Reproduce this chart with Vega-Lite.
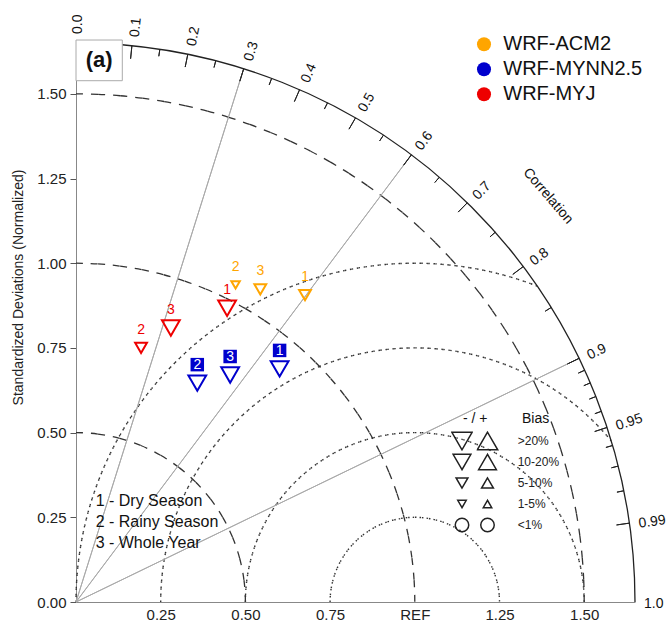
{
  "$schema": "https://vega.github.io/schema/vega-lite/v6.json",
  "width": 559,
  "height": 559,
  "autosize": {"type": "none"},
  "padding": {"left": 76, "top": 43, "right": 32, "bottom": 21},
  "background": "white",
  "config": {"view": {"stroke": null}, "font": "Liberation Sans"},
  "datasets": {
    "points": [
      {"model": "WRF-ACM2", "season": "1", "x": 0.676, "y": 0.906, "bias": "neg 5-10%"},
      {"model": "WRF-ACM2", "season": "2", "x": 0.471, "y": 0.936, "bias": "neg 1-5%"},
      {"model": "WRF-ACM2", "season": "3", "x": 0.544, "y": 0.923, "bias": "neg 5-10%"},
      {"model": "WRF-MYNN2.5", "season": "1", "x": 0.601, "y": 0.688, "bias": "neg 10-20%"},
      {"model": "WRF-MYNN2.5", "season": "2", "x": 0.358, "y": 0.646, "bias": "neg 10-20%"},
      {"model": "WRF-MYNN2.5", "season": "3", "x": 0.455, "y": 0.670, "bias": "neg 10-20%"},
      {"model": "WRF-MYJ", "season": "1", "x": 0.446, "y": 0.867, "bias": "neg 10-20%"},
      {"model": "WRF-MYJ", "season": "2", "x": 0.192, "y": 0.750, "bias": "neg 5-10%"},
      {"model": "WRF-MYJ", "season": "3", "x": 0.280, "y": 0.809, "bias": "neg 10-20%"}
    ],
    "sdarcs": [{"sd": 0.5}, {"sd": 1.0}, {"sd": 1.5}],
    "rmsA": [{"rms": 0.25}, {"rms": 0.5}],
    "radial": [{"corr": 0.3, "a": 17.458}, {"corr": 0.6, "a": 36.87}, {"corr": 0.9, "a": 64.158}],
    "major": [
      {"corr": 0.1, "a": 5.739}, {"corr": 0.2, "a": 11.537}, {"corr": 0.3, "a": 17.458},
      {"corr": 0.4, "a": 23.578}, {"corr": 0.5, "a": 30}, {"corr": 0.6, "a": 36.87},
      {"corr": 0.7, "a": 44.427}, {"corr": 0.8, "a": 53.13}, {"corr": 0.9, "a": 64.158},
      {"corr": 0.95, "a": 71.805}, {"corr": 0.99, "a": 81.89}
    ],
    "minor": [
      {"corr": 0.05, "a": 2.866}, {"corr": 0.15, "a": 8.627}, {"corr": 0.25, "a": 14.478},
      {"corr": 0.35, "a": 20.487}, {"corr": 0.45, "a": 26.744}, {"corr": 0.55, "a": 33.367},
      {"corr": 0.65, "a": 40.542}, {"corr": 0.75, "a": 48.59}, {"corr": 0.85, "a": 58.212},
      {"corr": 0.91, "a": 65.505}, {"corr": 0.92, "a": 66.926}, {"corr": 0.93, "a": 68.434},
      {"corr": 0.94, "a": 70.052}, {"corr": 0.96, "a": 73.74}, {"corr": 0.97, "a": 75.93},
      {"corr": 0.98, "a": 78.522}
    ],
    "corrlab": [
      {"label": "0.0", "a": 0}, {"label": "0.1", "a": 5.739}, {"label": "0.2", "a": 11.537},
      {"label": "0.3", "a": 17.458}, {"label": "0.4", "a": 23.578}, {"label": "0.5", "a": 30},
      {"label": "0.6", "a": 36.87}, {"label": "0.7", "a": 44.427}, {"label": "0.8", "a": 53.13},
      {"label": "0.9", "a": 64.158}, {"label": "0.95", "a": 71.805}, {"label": "0.99", "a": 81.89},
      {"label": "1.0", "a": 90}
    ],
    "posbias": [{"pbias": ">20%"}, {"pbias": "10-20%"}, {"pbias": "5-10%"}, {"pbias": "1-5%"}, {"pbias": "<1%"}]
  },
  "resolve": {"scale": {"shape": "independent", "size": "independent"}},
  "layer": [
    {
      "data": {"name": "sdarcs"},
      "mark": {"type": "arc", "filled": false, "stroke": "#333", "strokeWidth": 1.3, "strokeDash": [7, 15.1737]},
      "encoding": {
        "x": {"datum": 0, "type": "quantitative", "stack": null, "scale": {"domain": [0, 1.65], "nice": false, "zero": false}},
        "y": {"datum": 0, "type": "quantitative", "stack": null, "scale": {"domain": [0, 1.65], "nice": false, "zero": false}},
        "theta": {"datum": 0, "type": "quantitative", "scale": {"domain": [0, 360], "range": [0, 6.283185307179586]}},
        "theta2": {"datum": 90},
        "radius": {"field": "sd", "type": "quantitative", "scale": {"type": "linear", "domain": [0, 1.65], "range": [0, 559], "nice": false}},
        "radius2": {"field": "sd"}
      }
    },
    {
      "data": {"name": "rmsA"},
      "mark": {"type": "arc", "filled": false, "stroke": "#333", "strokeWidth": 1.4, "strokeDash": [1.5, 5.5022]},
      "encoding": {
        "x": {"datum": 1, "type": "quantitative", "stack": null, "scale": {"domain": [0, 1.65], "nice": false, "zero": false}},
        "y": {"datum": 0, "type": "quantitative", "stack": null, "scale": {"domain": [0, 1.65], "nice": false, "zero": false}},
        "theta": {"datum": -90, "type": "quantitative", "scale": {"domain": [0, 360], "range": [0, 6.283185307179586]}},
        "theta2": {"datum": 90},
        "radius": {"field": "rms", "type": "quantitative", "scale": {"type": "linear", "domain": [0, 1.65], "range": [0, 559], "nice": false}},
        "radius2": {"field": "rms"}
      }
    },
    {
      "data": {"values": [{"rms": 0.75}]},
      "mark": {"type": "arc", "filled": false, "stroke": "#333", "strokeWidth": 1.4, "strokeDash": [1.5, 5.508534]},
      "encoding": {
        "x": {"datum": 1, "type": "quantitative", "stack": null, "scale": {"domain": [0, 1.65], "nice": false, "zero": false}},
        "y": {"datum": 0, "type": "quantitative", "stack": null, "scale": {"domain": [0, 1.65], "nice": false, "zero": false}},
        "theta": {"datum": -90, "type": "quantitative", "scale": {"domain": [0, 360], "range": [0, 6.283185307179586]}},
        "theta2": {"datum": 50.6542},
        "radius": {"field": "rms", "type": "quantitative", "scale": {"type": "linear", "domain": [0, 1.65], "range": [0, 559], "nice": false}},
        "radius2": {"field": "rms"}
      }
    },
    {
      "data": {"values": [{"rms": 1.0}]},
      "mark": {"type": "arc", "filled": false, "stroke": "#333", "strokeWidth": 1.4, "strokeDash": [1.5, 5.49345]},
      "encoding": {
        "x": {"datum": 1, "type": "quantitative", "stack": null, "scale": {"domain": [0, 1.65], "nice": false, "zero": false}},
        "y": {"datum": 0, "type": "quantitative", "stack": null, "scale": {"domain": [0, 1.65], "nice": false, "zero": false}},
        "theta": {"datum": -90, "type": "quantitative", "scale": {"domain": [0, 360], "range": [0, 6.283185307179586]}},
        "theta2": {"datum": 21.1769},
        "radius": {"field": "rms", "type": "quantitative", "scale": {"type": "linear", "domain": [0, 1.65], "range": [0, 559], "nice": false}},
        "radius2": {"field": "rms"}
      }
    },
    {
      "data": {"name": "radial"},
      "mark": {"type": "arc", "filled": false, "stroke": "#aaaaaa", "strokeWidth": 1},
      "encoding": {
        "x": {"datum": 0, "type": "quantitative", "stack": null, "scale": {"domain": [0, 1.65], "nice": false, "zero": false}},
        "y": {"datum": 0, "type": "quantitative", "stack": null, "scale": {"domain": [0, 1.65], "nice": false, "zero": false}},
        "theta": {"field": "a", "type": "quantitative", "scale": {"domain": [0, 360], "range": [0, 6.283185307179586]}},
        "theta2": {"field": "a"},
        "radius": {"datum": 1.65, "type": "quantitative", "scale": {"type": "linear", "domain": [0, 1.65], "range": [0, 559], "nice": false}},
        "radius2": {"datum": 0}
      }
    },
    {
      "data": {"values": [{"r": 1.65}]},
      "mark": {"type": "arc", "filled": false, "stroke": "#222", "strokeWidth": 1.3},
      "encoding": {
        "x": {"datum": 0, "type": "quantitative", "stack": null, "scale": {"domain": [0, 1.65], "nice": false, "zero": false}},
        "y": {"datum": 0, "type": "quantitative", "stack": null, "scale": {"domain": [0, 1.65], "nice": false, "zero": false}},
        "theta": {"datum": 0, "type": "quantitative", "scale": {"domain": [0, 360], "range": [0, 6.283185307179586]}},
        "theta2": {"datum": 90},
        "radius": {"field": "r", "type": "quantitative", "scale": {"type": "linear", "domain": [0, 1.65], "range": [0, 559], "nice": false}},
        "radius2": {"field": "r"}
      }
    },
    {
      "data": {"name": "major"},
      "mark": {"type": "arc", "filled": false, "stroke": "#222", "strokeWidth": 1},
      "encoding": {
        "x": {"datum": 0, "type": "quantitative", "stack": null, "scale": {"domain": [0, 1.65], "nice": false, "zero": false}},
        "y": {"datum": 0, "type": "quantitative", "stack": null, "scale": {"domain": [0, 1.65], "nice": false, "zero": false}},
        "theta": {"field": "a", "type": "quantitative", "scale": {"domain": [0, 360], "range": [0, 6.283185307179586]}},
        "theta2": {"field": "a"},
        "radius": {"datum": 1.65, "type": "quantitative", "scale": {"type": "linear", "domain": [0, 1.65], "range": [0, 559], "nice": false}},
        "radius2": {"datum": 1.6116}
      }
    },
    {
      "data": {"name": "minor"},
      "mark": {"type": "arc", "filled": false, "stroke": "#222", "strokeWidth": 1},
      "encoding": {
        "x": {"datum": 0, "type": "quantitative", "stack": null, "scale": {"domain": [0, 1.65], "nice": false, "zero": false}},
        "y": {"datum": 0, "type": "quantitative", "stack": null, "scale": {"domain": [0, 1.65], "nice": false, "zero": false}},
        "theta": {"field": "a", "type": "quantitative", "scale": {"domain": [0, 360], "range": [0, 6.283185307179586]}},
        "theta2": {"field": "a"},
        "radius": {"datum": 1.65, "type": "quantitative", "scale": {"type": "linear", "domain": [0, 1.65], "range": [0, 559], "nice": false}},
        "radius2": {"datum": 1.6293}
      }
    },
    {
      "data": {"name": "corrlab"},
      "mark": {"type": "text", "align": "left", "baseline": "middle", "fontSize": 14, "dy": 2, "color": "#111"},
      "encoding": {
        "x": {"datum": 0, "type": "quantitative", "scale": {"domain": [0, 1.65], "nice": false, "zero": false}},
        "y": {"datum": 0, "type": "quantitative", "scale": {"domain": [0, 1.65], "nice": false, "zero": false}},
        "theta": {"field": "a", "type": "quantitative", "scale": {"domain": [0, 360], "range": [0, 6.283185307179586]}},
        "radius": {"datum": 1.6766, "type": "quantitative", "scale": {"type": "linear", "domain": [0, 1.65], "range": [0, 559], "nice": false}},
        "angle": {"field": "a", "type": "quantitative", "scale": {"domain": [0, 360], "range": [-90, 270]}},
        "text": {"field": "label"}
      }
    },
    {
      "data": {"values": [{"t": "Correlation"}]},
      "mark": {"type": "text", "align": "center", "baseline": "middle", "fontSize": 14, "angle": 49.3, "color": "#111"},
      "encoding": {
        "x": {"datum": 0, "type": "quantitative", "scale": {"domain": [0, 1.65], "nice": false, "zero": false}},
        "y": {"datum": 0, "type": "quantitative", "scale": {"domain": [0, 1.65], "nice": false, "zero": false}},
        "theta": {"datum": 49.3, "type": "quantitative", "scale": {"domain": [0, 360], "range": [0, 6.283185307179586]}},
        "radius": {"datum": 1.8378, "type": "quantitative", "scale": {"type": "linear", "domain": [0, 1.65], "range": [0, 559], "nice": false}},
        "text": {"field": "t"}
      }
    },
    {
      "data": {"name": "points"},
      "mark": {"type": "point", "filled": false, "strokeWidth": 2, "opacity": 1},
      "encoding": {
        "x": {
          "field": "x", "type": "quantitative",
          "scale": {"domain": [0, 1.65], "nice": false, "zero": false},
          "axis": {
            "values": [0.25, 0.5, 0.75, 1, 1.25, 1.5],
            "labelExpr": "datum.value === 1 ? 'REF' : format(datum.value, '.2f')",
            "ticks": false, "labelPadding": 5, "labelFontSize": 15, "labelColor": "#222",
            "domainColor": "#888", "domainWidth": 1, "title": null, "grid": false,
            "labelFlush": false, "labelOverlap": false
          }
        },
        "y": {
          "field": "y", "type": "quantitative",
          "scale": {"domain": [0, 1.65], "nice": false, "zero": false},
          "axis": {
            "values": [0, 0.25, 0.5, 0.75, 1, 1.25, 1.5],
            "format": ".2f", "tickSize": 6, "tickColor": "#555", "labelPadding": 4,
            "labelFontSize": 15, "labelColor": "#222", "domainColor": "#888", "domainWidth": 1,
            "title": "Standardized Deviations (Normalized)", "titleFontSize": 14,
            "titleFontWeight": "normal", "titleColor": "#222", "titleX": -58, "titleY": 244,
            "titleAngle": 270, "titleAlign": "center", "titleBaseline": "middle",
            "grid": false, "labelFlush": false, "labelOverlap": false
          }
        },
        "stroke": {
          "field": "model", "type": "nominal",
          "scale": {"domain": ["WRF-MYJ", "WRF-MYNN2.5", "WRF-ACM2"], "range": ["#EE0000", "#0000CD", "#FFA500"]},
          "legend": null
        },
        "shape": {
          "field": "bias", "type": "ordinal",
          "scale": {"type": "ordinal", "domain": ["neg >20%", "neg 10-20%", "neg 5-10%", "neg 1-5%", "neg <1%"], "range": ["triangle-down", "triangle-down", "triangle-down", "triangle-down", "circle"]},
          "legend": {
            "orient": "none", "legendX": 375, "legendY": 387.5, "title": null,
            "labelExpr": "''", "labelOffset": 0, "labelFontSize": 12, "clipHeight": 21, "rowPadding": 0,
            "padding": 0, "symbolStrokeColor": "#222", "symbolStrokeWidth": 1.5,
            "symbolFillColor": "transparent", "symbolOpacity": 1
          }
        },
        "size": {
          "field": "bias", "type": "ordinal",
          "scale": {"type": "ordinal", "domain": ["neg >20%", "neg 10-20%", "neg 5-10%", "neg 1-5%", "neg <1%"], "range": [420, 317, 140, 72, 182]},
          "legend": {
            "orient": "none", "legendX": 375, "legendY": 387.5, "title": null,
            "labelExpr": "''", "labelOffset": 0, "labelFontSize": 12, "clipHeight": 21, "rowPadding": 0,
            "padding": 0, "symbolStrokeColor": "#222", "symbolStrokeWidth": 1.5,
            "symbolFillColor": "transparent", "symbolOpacity": 1
          }
        }
      }
    },
    {
      "data": {"name": "points"},
      "transform": [{"filter": "datum.model === 'WRF-MYNN2.5'"}],
      "mark": {"type": "point", "shape": "square", "filled": true, "color": "#0000CD", "size": 182, "yOffset": -18.5, "opacity": 1},
      "encoding": {
        "x": {"field": "x", "type": "quantitative", "scale": {"domain": [0, 1.65], "nice": false, "zero": false}},
        "y": {"field": "y", "type": "quantitative", "scale": {"domain": [0, 1.65], "nice": false, "zero": false}}
      }
    },
    {
      "data": {"name": "points"},
      "mark": {"type": "text", "fontSize": 14, "dy": -18, "align": "center", "baseline": "middle"},
      "encoding": {
        "x": {"field": "x", "type": "quantitative", "scale": {"domain": [0, 1.65], "nice": false, "zero": false}},
        "y": {"field": "y", "type": "quantitative", "scale": {"domain": [0, 1.65], "nice": false, "zero": false}},
        "text": {"field": "season"},
        "color": {
          "condition": {"test": "datum.model === 'WRF-MYNN2.5'", "value": "white"},
          "field": "model", "type": "nominal",
          "scale": {"domain": ["WRF-ACM2", "WRF-MYNN2.5", "WRF-MYJ"], "range": ["#FFA500", "#0000CD", "#EE0000"]},
          "legend": {
            "orient": "none", "legendX": 398, "legendY": -11.2, "title": null,
            "symbolType": "circle", "symbolSize": 196, "symbolStrokeWidth": 0, "symbolOpacity": 1,
            "labelFontSize": 20, "labelColor": "#111", "labelOffset": 9.3, "clipHeight": 25,
            "rowPadding": 0, "padding": 0
          }
        }
      }
    },
    {
      "data": {"name": "posbias"},
      "mark": {"type": "point", "filled": false, "opacity": 0},
      "encoding": {
        "shape": {
          "field": "pbias", "type": "ordinal",
          "scale": {"type": "ordinal", "domain": [">20%", "10-20%", "5-10%", "1-5%", "<1%"], "range": ["triangle-up", "triangle-up", "triangle-up", "triangle-up", "circle"]},
          "legend": {
            "orient": "none", "legendX": 400.5, "legendY": 387.5, "title": null,
            "labelOffset": 19.2, "labelFontSize": 12, "labelColor": "#222", "clipHeight": 21, "rowPadding": 0,
            "padding": 0, "symbolStrokeColor": "#222", "symbolStrokeWidth": 1.5,
            "symbolFillColor": "transparent", "symbolOpacity": 1
          }
        },
        "size": {
          "field": "pbias", "type": "ordinal",
          "scale": {"type": "ordinal", "domain": [">20%", "10-20%", "5-10%", "1-5%", "<1%"], "range": [420, 317, 140, 72, 182]},
          "legend": {
            "orient": "none", "legendX": 400.5, "legendY": 387.5, "title": null,
            "labelOffset": 19.2, "labelFontSize": 12, "labelColor": "#222", "clipHeight": 21, "rowPadding": 0,
            "padding": 0, "symbolStrokeColor": "#222", "symbolStrokeWidth": 1.5,
            "symbolFillColor": "transparent", "symbolOpacity": 1
          }
        }
      }
    },
    {
      "data": {"values": [{"t": "- / +", "x": 1.1423}, {"t": "Bias", "x": 1.3164}]},
      "mark": {"type": "text", "align": "left", "baseline": "middle", "fontSize": 14, "color": "#111"},
      "encoding": {
        "x": {"field": "x", "type": "quantitative", "scale": {"domain": [0, 1.65], "nice": false, "zero": false}},
        "y": {"datum": 0.54, "type": "quantitative", "scale": {"domain": [0, 1.65], "nice": false, "zero": false}},
        "text": {"field": "t"}
      }
    },
    {
      "data": {"values": [{"t": "seasons"}]},
      "mark": {"type": "text", "align": "left", "baseline": "alphabetic", "fontSize": 16, "lineHeight": 21, "color": "#111"},
      "encoding": {
        "x": {"datum": 0.058, "type": "quantitative", "scale": {"domain": [0, 1.65], "nice": false, "zero": false}},
        "y": {"datum": 0.2842, "type": "quantitative", "scale": {"domain": [0, 1.65], "nice": false, "zero": false}},
        "text": {"value": ["1 - Dry Season", "2 - Rainy Season", "3 - Whole Year"]}
      }
    },
    {
      "data": {"values": [{"t": "box"}]},
      "mark": {"type": "rect", "fill": "white", "stroke": "#aaaaaa", "strokeWidth": 1},
      "encoding": {
        "x": {"datum": 0, "type": "quantitative", "scale": {"domain": [0, 1.65], "nice": false, "zero": false}},
        "x2": {"datum": 0.1367},
        "y": {"datum": 1.6588, "type": "quantitative", "scale": {"domain": [0, 1.65], "nice": false, "zero": false}},
        "y2": {"datum": 1.5387}
      }
    },
    {
      "data": {"values": [{"t": "(a)"}]},
      "mark": {"type": "text", "align": "center", "baseline": "middle", "fontSize": 22, "fontWeight": "bold", "color": "#111"},
      "encoding": {
        "x": {"datum": 0.0683, "type": "quantitative", "scale": {"domain": [0, 1.65], "nice": false, "zero": false}},
        "y": {"datum": 1.5988, "type": "quantitative", "scale": {"domain": [0, 1.65], "nice": false, "zero": false}},
        "text": {"field": "t"}
      }
    }
  ]
}
